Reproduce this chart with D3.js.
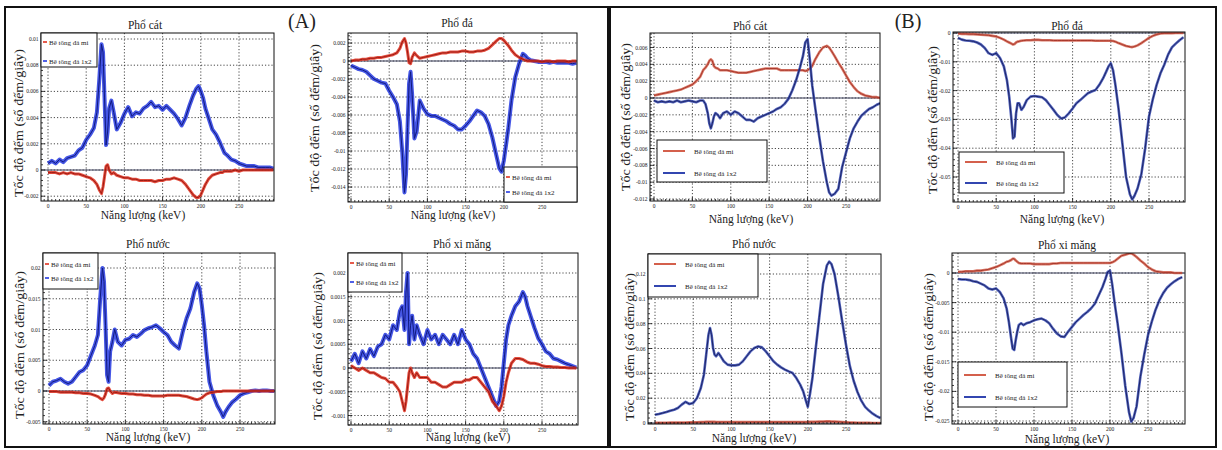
<!DOCTYPE html>
<html>
<head>
<meta charset="utf-8">
<script src="https://cdn.jsdelivr.net/npm/d3@7"></script>
<style>
body { margin: 0; background: #fff; }
</style>
</head>
<body>
<svg id="fig" width="1222" height="450"></svg>
<script>
// energy grid (keV), shared by all series
const energy = [0,5,10,15,20,25,30,35,40,45,50,55,60,
  64,67,70,72,74,76,78,80,83,86,90,
  95,100,105,110,115,120,125,130,135,140,145,150,155,160,165,170,175,180,185,
  190,194,197,200,203,206,210,
  215,220,225,228,231,235,
  240,245,250,255,260,265,270,275,280,285,290,295]

// (A) Phổ cát
const catA_mi = [-0.0002,-0.0002,-0.0002,-0.0003,-0.0002,-0.0003,-0.0002,-0.0003,-0.0003,-0.0004,-0.0005,-0.0006,-0.0008,
  -0.0011,-0.0015,-0.0018,-0.0013,-0.0005,0.0003,0.0004,0,-0.0003,-0.0002,-0.0004,
  -0.0005,-0.0006,-0.0006,-0.0007,-0.0007,-0.0008,-0.0008,-0.0008,-0.0008,-0.0009,-0.0008,-0.0008,-0.0007,-0.0007,-0.0006,-0.0007,-0.0008,-0.0011,-0.0015,
  -0.0019,-0.0021,-0.0021,-0.0019,-0.0015,-0.0011,-0.0007,
  -0.0004,-0.0003,-0.0002,-0.0002,-0.0001,-0.0001,
  -0.0001,0,-0.0001,0,0,0,0,0,0,0,0,0]
const catA_1x2 = [0.0005,0.0007,0.0005,0.0008,0.0006,0.0009,0.0010,0.0011,0.0015,0.0017,0.0023,0.0027,0.0032,
  0.0044,0.0068,0.0096,0.0090,0.0055,0.0019,0.0029,0.0047,0.0053,0.0044,0.0031,
  0.0036,0.0043,0.0048,0.0041,0.0044,0.0043,0.0047,0.0049,0.0052,0.0048,0.0049,0.0046,0.0049,0.0046,0.0043,0.0039,0.0034,0.0040,0.0049,
  0.0057,0.0062,0.0064,0.0060,0.0055,0.0047,0.0040,
  0.0031,0.0027,0.0021,0.0017,0.0013,0.0011,
  0.0008,0.0007,0.0005,0.0004,0.0003,0.0003,0.0003,0.0002,0.0002,0.0002,0.0002,0.0001]

// (A) Phổ đá
const daA_mi = [0,0.0001,0.0001,0.0002,0.0002,0.0003,0.0003,0.0004,0.0004,0.0005,0.0006,0.0007,0.0009,
  0.0014,0.0021,0.0025,0.0020,0.0010,-0.0002,-0.0003,0.0004,0.0009,0.0006,0.0003,
  0.0004,0.0005,0.0006,0.0007,0.0008,0.0009,0.0009,0.0010,0.0010,0.0010,0.0011,0.0011,0.0010,0.0010,0.0011,0.0011,0.0012,0.0014,0.0018,
  0.0022,0.0025,0.0025,0.0023,0.0020,0.0017,0.0012,
  0.0007,0.0004,0.0002,0.0001,0,0,
  0,0,-0.0001,0,0,-0.0001,0,0,0,-0.0001,0,0]
const daA_1x2 = [-0.0005,-0.0007,-0.0009,-0.0010,-0.0012,-0.0016,-0.0020,-0.0022,-0.0024,-0.0025,-0.0033,-0.0040,-0.0048,
  -0.0067,-0.0100,-0.0146,-0.0126,-0.0074,-0.0025,-0.0012,-0.0037,-0.0086,-0.0078,-0.0044,
  -0.0053,-0.0059,-0.0061,-0.0061,-0.0063,-0.0065,-0.0067,-0.0070,-0.0072,-0.0076,-0.0076,-0.0072,-0.0067,-0.0061,-0.0055,-0.0057,-0.0061,-0.0070,-0.0085,
  -0.0104,-0.0119,-0.0123,-0.0111,-0.0093,-0.0074,-0.0044,
  -0.0018,-0.0003,0.0008,0.0006,0.0003,0.0001,
  0,-0.0001,-0.0001,-0.0001,-0.0002,-0.0001,-0.0002,-0.0002,-0.0002,-0.0002,-0.0003,-0.0002]

// (A) Phổ nước
const nuocA_mi = [-0.0001,-0.0001,-0.0001,-0.0002,-0.0002,-0.0002,-0.0002,-0.0003,-0.0003,-0.0004,-0.0004,-0.0005,-0.0007,
  -0.0009,-0.0012,-0.0014,-0.0011,-0.0005,0.0004,0.0005,0,-0.0004,-0.0002,-0.0003,
  -0.0004,-0.0004,-0.0005,-0.0005,-0.0006,-0.0006,-0.0007,-0.0007,-0.0008,-0.0008,-0.0008,-0.0008,-0.0007,-0.0007,-0.0007,-0.0007,-0.0008,-0.0009,-0.0011,
  -0.0013,-0.0014,-0.0013,-0.0011,-0.0008,-0.0005,-0.0003,
  -0.0002,-0.0001,-0.0001,0,0,0,
  0,0,0,0,0,0,0,0,0,0,0,0]
const nuocA_1x2 = [0.0009,0.0015,0.0017,0.0020,0.0015,0.0012,0.0015,0.0023,0.0031,0.0034,0.0042,0.0058,0.0074,
  0.0091,0.0150,0.0200,0.0178,0.0107,0.0026,0.0015,0.0064,0.0080,0.0100,0.0080,
  0.0074,0.0083,0.0085,0.0091,0.0088,0.0093,0.0099,0.0102,0.0104,0.0107,0.0102,0.0096,0.0091,0.0080,0.0074,0.0069,0.0096,0.0118,0.0134,
  0.0161,0.0175,0.0167,0.0140,0.0107,0.0064,0.0015,
  -0.0007,-0.0023,-0.0034,-0.0042,-0.0034,-0.0026,
  -0.0018,-0.0013,-0.0007,-0.0004,-0.0002,0,0.0001,0,0.0001,0.0001,0,0]

// (A) Phổ xi măng
const ximangA_mi = [0.00005,0,-0.00005,0,-0.00005,-0.0001,-0.0001,-0.00015,-0.0002,-0.00022,-0.0003,-0.0003,-0.0004,
  -0.0005,-0.0007,-0.0009,-0.0007,-0.0004,-0.0001,0,-0.0001,-0.0002,-0.0001,-0.0002,
  -0.0002,-0.0002,-0.0003,-0.0003,-0.00035,-0.0004,-0.0004,-0.00035,-0.0003,-0.0003,-0.0003,-0.00025,-0.00025,-0.0002,-0.0002,-0.0003,-0.0004,-0.0005,-0.0007,
  -0.0008,-0.0009,-0.0008,-0.0006,-0.0003,-0.0001,0.0001,
  0.0002,0.0002,0.00018,0.00015,0.00012,0.0001,
  0.0001,0.00008,0.00005,0.00003,0.00003,0.00002,0.00002,0.00001,0.00001,0,0,0]
const ximangA_1x2 = [0.00014,0.0003,0.0001,0.00035,0.0002,0.0004,0.00025,0.00045,0.0005,0.0007,0.0006,0.0009,0.0008,
  0.0012,0.0013,0.0008,0.0016,0.0020,0.0005,0.0009,0.0011,0.0006,0.0009,0.0007,
  0.0005,0.0008,0.0006,0.0007,0.0005,0.0007,0.0006,0.0005,0.0007,0.0005,0.0008,0.0006,0.0005,0.0003,0.0002,0,-0.0002,-0.0004,-0.0006,
  -0.0008,-0.0007,-0.0004,0.0001,0.0006,0.0009,0.0011,
  0.0013,0.0014,0.0016,0.0015,0.0013,0.0011,
  0.00085,0.00063,0.0005,0.00035,0.0003,0.0002,0.00018,0.00014,0.0001,0.00007,0.00004,0.00001]

// (B) Phổ cát
const catB_mi = [0.0003,0.0004,0.0005,0.0006,0.0007,0.0008,0.0009,0.0010,0.0012,0.0014,0.0016,0.0020,0.0025,
  0.0033,0.0036,0.0040,0.0044,0.0046,0.0044,0.0038,0.0036,0.0035,0.0033,0.0033,
  0.0033,0.0032,0.0031,0.0030,0.0030,0.0030,0.0031,0.0032,0.0033,0.0034,0.0035,0.0035,0.0035,0.0035,0.0033,0.0033,0.0033,0.0033,0.0033,
  0.0033,0.0033,0.0032,0.0033,0.0035,0.0038,0.0046,
  0.0054,0.0060,0.0062,0.0060,0.0056,0.0050,
  0.0042,0.0035,0.0027,0.0019,0.0013,0.0008,0.0005,0.0003,0.0002,0.0001,0.0001,0]
const catB_1x2 = [-0.0003,-0.0005,-0.0004,-0.0005,-0.0004,-0.0005,-0.0003,-0.0005,-0.0004,-0.0003,-0.0004,-0.0005,-0.0003,
  -0.0003,-0.0007,-0.0018,-0.0030,-0.0036,-0.0030,-0.0022,-0.0018,-0.0020,-0.0024,-0.0018,
  -0.0016,-0.0020,-0.0016,-0.0018,-0.0022,-0.0026,-0.0026,-0.0028,-0.0024,-0.0022,-0.0020,-0.0018,-0.0016,-0.0013,-0.0011,-0.0007,-0.0001,0.0009,0.0021,
  0.0036,0.0050,0.0066,0.0070,0.0045,0.0015,-0.0012,
  -0.0045,-0.0075,-0.0100,-0.0112,-0.0116,-0.0114,
  -0.0108,-0.0082,-0.0065,-0.0048,-0.0036,-0.0028,-0.0021,-0.0017,-0.0013,-0.0011,-0.0008,-0.0006]

// (B) Phổ đá
const daB_mi = [-0.0002,-0.0003,-0.0003,-0.0004,-0.0004,-0.0005,-0.0006,-0.0007,-0.0008,-0.0010,-0.0012,-0.0017,-0.0023,
  -0.0029,-0.0033,-0.0037,-0.0040,-0.0038,-0.0033,-0.0030,-0.0029,-0.0027,-0.0026,-0.0025,
  -0.0025,-0.0024,-0.0024,-0.0025,-0.0025,-0.0025,-0.0026,-0.0026,-0.0026,-0.0026,-0.0026,-0.0026,-0.0026,-0.0026,-0.0026,-0.0026,-0.0026,-0.0027,-0.0027,
  -0.0027,-0.0027,-0.0027,-0.0027,-0.0028,-0.0030,-0.0035,
  -0.0040,-0.0045,-0.0048,-0.0049,-0.0047,-0.0043,
  -0.0035,-0.0026,-0.0017,-0.0010,-0.0005,-0.0002,-0.0001,-0.0001,-0.0001,0,0,0]
const daB_1x2 = [-0.0017,-0.0023,-0.0026,-0.0027,-0.0029,-0.0033,-0.0040,-0.0052,-0.0070,-0.0076,-0.0070,-0.0087,-0.0116,
  -0.0163,-0.0221,-0.0302,-0.0366,-0.0360,-0.0279,-0.0244,-0.0244,-0.0267,-0.0256,-0.0233,
  -0.0221,-0.0219,-0.0221,-0.0223,-0.0233,-0.0250,-0.0267,-0.0285,-0.0297,-0.0293,-0.0279,-0.0262,-0.0244,-0.0233,-0.0221,-0.0209,-0.0203,-0.0198,-0.0180,
  -0.0157,-0.0134,-0.0116,-0.0105,-0.0130,-0.0180,-0.0260,
  -0.0380,-0.0500,-0.0560,-0.0578,-0.0565,-0.0540,
  -0.0490,-0.0400,-0.0290,-0.0230,-0.0180,-0.0140,-0.0110,-0.0075,-0.0050,-0.0037,-0.0025,-0.0015]

// (B) Phổ nước
const nuocB_mi = [0.0001,0.0001,0.0002,0.0002,0.0003,0.0003,0.0003,0.0004,0.0004,0.0005,0.0005,0.0006,0.0007,
  0.0008,0.0009,0.0010,0.0010,0.0010,0.0009,0.0009,0.0008,0.0008,0.0008,0.0008,
  0.0008,0.0008,0.0007,0.0007,0.0007,0.0007,0.0008,0.0008,0.0008,0.0008,0.0008,0.0008,0.0008,0.0008,0.0008,0.0008,0.0008,0.0008,0.0008,
  0.0008,0.0008,0.0008,0.0008,0.0009,0.0009,0.0010,
  0.0011,0.0012,0.0013,0.0013,0.0012,0.0011,
  0.0010,0.0008,0.0006,0.0004,0.0003,0.0002,0.0001,0.0001,0.0001,0,0,0]
const nuocB_1x2 = [0.0067,0.0072,0.0080,0.0089,0.0099,0.0107,0.0121,0.0148,0.0170,0.0153,0.0161,0.0201,0.0282,
  0.0389,0.0550,0.0711,0.0765,0.0711,0.0604,0.0550,0.0537,0.0564,0.0537,0.0497,
  0.0470,0.0464,0.0464,0.0470,0.0497,0.0537,0.0577,0.0604,0.0617,0.0609,0.0577,0.0537,0.0497,0.0470,0.0448,0.0430,0.0416,0.0403,0.0362,
  0.0309,0.0255,0.0190,0.0130,0.0240,0.0360,0.0580,
  0.0850,0.1120,0.1270,0.1300,0.1280,0.1200,
  0.1020,0.0820,0.0630,0.0460,0.0340,0.0250,0.0180,0.0130,0.0100,0.0075,0.0055,0.0040]

// (B) Phổ xi măng
const ximangB_mi = [0.0002,0.0002,0.0003,0.0003,0.0003,0.0004,0.0004,0.0005,0.0006,0.0008,0.0010,0.0013,0.0016,
  0.0019,0.0020,0.0022,0.0024,0.0024,0.0021,0.0019,0.0017,0.0016,0.0016,0.0016,
  0.0016,0.0015,0.0015,0.0015,0.0015,0.0015,0.0016,0.0016,0.0017,0.0017,0.0017,0.0017,0.0017,0.0017,0.0017,0.0017,0.0017,0.0017,0.0017,
  0.0017,0.0017,0.0017,0.0017,0.0018,0.0020,0.0024,
  0.0029,0.0031,0.0033,0.0033,0.0031,0.0027,
  0.0021,0.0016,0.0010,0.0006,0.0003,0.0002,0.0001,0.0001,0.0001,0,0,0]
const ximangB_1x2 = [-0.0010,-0.0011,-0.0011,-0.0012,-0.0014,-0.0015,-0.0018,-0.0021,-0.0026,-0.0028,-0.0026,-0.0032,-0.0043,
  -0.0060,-0.0083,-0.0111,-0.0128,-0.0130,-0.0113,-0.0099,-0.0088,-0.0085,-0.0088,-0.0085,
  -0.0083,-0.0080,-0.0078,-0.0077,-0.0080,-0.0085,-0.0094,-0.0102,-0.0107,-0.0108,-0.0099,-0.0091,-0.0083,-0.0077,-0.0071,-0.0066,-0.0060,-0.0052,-0.0038,
  -0.0024,-0.0010,0.0002,0.0004,-0.0020,-0.0050,-0.0085,
  -0.0135,-0.0190,-0.0235,-0.0251,-0.0245,-0.0225,
  -0.0175,-0.0138,-0.0105,-0.0082,-0.0062,-0.0046,-0.0034,-0.0025,-0.0019,-0.0014,-0.0010,-0.0007]

const xTicks = [0, 50, 100, 150, 200, 250]
const yTicksCatA = [-0.002, 0, 0.002, 0.004, 0.006, 0.008, 0.01]
const yTicksDaA = [-0.014, -0.012, -0.01, -0.008, -0.006, -0.004, -0.002, 0, 0.002]
const yTicksNuocA = [-0.005, 0, 0.005, 0.01, 0.015, 0.02]
const yTicksXimangA = [-0.001, -0.0005, 0, 0.0005, 0.001, 0.0015, 0.002]
const yTicksCatB = [-0.012, -0.01, -0.008, -0.006, -0.004, -0.002, 0, 0.002, 0.004, 0.006]
const yTicksDaB = [-0.05, -0.04, -0.03, -0.02, -0.01, 0]
const yTicksNuocB = [0, 0.02, 0.04, 0.06, 0.08, 0.1, 0.12]
const yTicksXimangB = [-0.025, -0.02, -0.015, -0.01, -0.005, 0]

const seriesNames = ['Bê tông đá mi', 'Bê tông đá 1x2']
const titles = ['Phổ cát', 'Phổ đá', 'Phổ nước', 'Phổ xi măng']
const xLabel = 'Năng lượng (keV)'
const yLabel = 'Tốc độ đếm (số đếm/giây)'

const panels = [
    { id: 'p1', part: 'A', title: titles[0], red: catA_mi, blue: catA_1x2, yTicks: yTicksCatA,
      frame: [41, 33, 274, 201], xAt: [48, 239], yRef: [0, 0.01], yAt: [170, 39],
      titleAt: [145, 29], xLabAt: [143, 219], yLabAt: [19, 123],
      legend: [41, 33, 97, 67], rows: [42, 61] },
    { id: 'p2', part: 'A', title: titles[1], red: daA_mi, blue: daA_1x2, yTicks: yTicksDaA,
      frame: [348, 33, 577, 202], xAt: [351, 542], yRef: [0, -0.014], yAt: [61, 187],
      titleAt: [457, 27], xLabAt: [453, 219], yLabAt: [315, 118],
      legend: [504, 167, 577, 202], rows: [177, 192] },
    { id: 'p3', part: 'A', title: titles[2], red: nuocA_mi, blue: nuocA_1x2, yTicks: yTicksNuocA,
      frame: [43, 253, 275, 424], xAt: [49, 240], yRef: [0, 0.02], yAt: [391, 268],
      titleAt: [148, 248], xLabAt: [148, 441], yLabAt: [20, 345],
      legend: [43, 253, 98, 289], rows: [264, 278] },
    { id: 'p4', part: 'A', title: titles[3], red: ximangA_mi, blue: ximangA_1x2, yTicks: yTicksXimangA,
      frame: [348, 253, 578, 425], xAt: [351, 542], yRef: [0, 0.002], yAt: [368, 273],
      titleAt: [462, 248], xLabAt: [468, 441], yLabAt: [318, 346],
      legend: [348, 253, 402, 292], rows: [263, 282] },
    { id: 'p5', part: 'B', title: titles[0], red: catB_mi, blue: catB_1x2, yTicks: yTicksCatB,
      frame: [650, 33, 880, 201], xAt: [654, 846], yRef: [0, -0.012], yAt: [98, 199],
      titleAt: [750, 30], xLabAt: [751, 223], yLabAt: [626, 117],
      legend: [657, 140, 767, 182], rows: [151, 173] },
    { id: 'p6', part: 'B', title: titles[1], red: daB_mi, blue: daB_1x2, yTicks: yTicksDaB,
      frame: [953, 32, 1185, 202], xAt: [958, 1149], yRef: [0, -0.05], yAt: [33, 177],
      titleAt: [1067, 30], xLabAt: [1062, 223], yLabAt: [933, 120],
      legend: [959, 152, 1064, 193], rows: [162, 183] },
    { id: 'p7', part: 'B', title: titles[2], red: nuocB_mi, blue: nuocB_1x2, yTicks: yTicksNuocB,
      frame: [648, 254, 881, 424], xAt: [655, 846], yRef: [0, 0.12], yAt: [423, 274],
      titleAt: [754, 248], xLabAt: [754, 442], yLabAt: [630, 347],
      legend: [648, 254, 758, 297], rows: [264, 286] },
    { id: 'p8', part: 'B', title: titles[3], red: ximangB_mi, blue: ximangB_1x2, yTicks: yTicksXimangB,
      frame: [952, 253, 1185, 424], xAt: [958, 1148], yRef: [0, -0.025], yAt: [273, 421],
      titleAt: [1067, 249], xLabAt: [1067, 443], yLabAt: [929, 347],
      legend: [958, 362, 1067, 407], rows: [375, 397] },
]

// band = wide light stroke (noise envelope), core = thin dark stroke
const colors = {
    A: { red: '#e0301f', redCore: '#9c1a12', blue: '#2438e0', blueCore: '#101a80' },
    B: { red: '#d4604c', redCore: '#a8382c', blue: '#3346b0', blueCore: '#1c2466' },
}
const FONT = "'Liberation Serif', 'DejaVu Serif', 'Times New Roman', serif"

const svg = d3.select('#fig')

function txt(sel) {
    return sel.append('text').attr('font-family', FONT).attr('fill', '#222')
}

// outer boxes of (A) and (B)
svg.append('rect').attr('x', 5).attr('y', 7).attr('width', 603).attr('height', 440)
   .attr('fill', 'none').attr('stroke', '#111').attr('stroke-width', 2)
svg.append('rect').attr('x', 610).attr('y', 7).attr('width', 606).attr('height', 440)
   .attr('fill', 'none').attr('stroke', '#111').attr('stroke-width', 2)
txt(svg).attr('x', 302).attr('y', 28).attr('text-anchor', 'middle')
   .attr('font-size', 20).text('(A)')
txt(svg).attr('x', 908).attr('y', 28).attr('text-anchor', 'middle')
   .attr('font-size', 20).text('(B)')

function fmt(v) {
    return String(+v.toPrecision(6))
}

panels.forEach(drawPanel)

function drawPanel(p) {
    const [fx0, fy0, fx1, fy1] = p.frame
    const x = d3.scaleLinear().domain([0, 250]).range(p.xAt)
    const y = d3.scaleLinear().domain(p.yRef).range(p.yAt)
    const col = colors[p.part]
    const g = svg.append('g')

    svg.append('clipPath').attr('id', 'clip-' + p.id)
       .append('rect').attr('x', fx0).attr('y', fy0)
       .attr('width', fx1 - fx0).attr('height', fy1 - fy0)

    // dotted grid at major ticks
    g.selectAll('.gx').data(xTicks).enter().append('line')
     .attr('x1', d => x(d)).attr('x2', d => x(d))
     .attr('y1', fy0).attr('y2', fy1)
     .attr('stroke', '#333').attr('stroke-width', 0.9).attr('stroke-dasharray', '1.2,2')
    const yIn = p.yTicks.filter(d => y(d) >= fy0 - 0.5 && y(d) <= fy1 + 0.5)
    g.selectAll('.gy').data(yIn).enter().append('line')
     .attr('x1', fx0).attr('x2', fx1)
     .attr('y1', d => y(d)).attr('y2', d => y(d))
     .attr('stroke', '#333').attr('stroke-width', 0.9).attr('stroke-dasharray', '1.2,2')

    // zero line
    g.append('line').attr('x1', fx0).attr('x2', fx1)
     .attr('y1', y(0)).attr('y2', y(0))
     .attr('stroke', '#3a3f5a').attr('stroke-width', 1)

    // spectra
    const line = d3.line()
                   .x((d, i) => x(energy[i]))
                   .y(d => y(d))
    const plot = g.append('g').attr('clip-path', 'url(#clip-' + p.id + ')')
    const order = p.part == 'A' ? ['blue', 'red'] : ['red', 'blue']
    const band = p.part == 'A' ? { blue: 4, red: 3 } : { blue: 2.6, red: 2.6 }
    order.forEach(function (k) {
        plot.append('path').datum(p[k])
            .attr('d', line)
            .attr('fill', 'none')
            .attr('stroke', col[k])
            .attr('stroke-opacity', 0.85)
            .attr('stroke-width', band[k])
            .attr('stroke-linejoin', 'round')
        plot.append('path').datum(p[k])
            .attr('d', line)
            .attr('fill', 'none')
            .attr('stroke', col[k + 'Core'])
            .attr('stroke-width', 1)
            .attr('stroke-linejoin', 'round')
    })

    // frame
    g.append('rect').attr('x', fx0).attr('y', fy0)
     .attr('width', fx1 - fx0).attr('height', fy1 - fy0)
     .attr('fill', 'none').attr('stroke', '#111').attr('stroke-width', 1)

    // x ticks (major + minor every 5 keV)
    const lo = Math.ceil(x.invert(fx0) / 5) * 5
    const hi = x.invert(fx1)
    const xMinor = d3.range(lo, hi, 5)
    g.selectAll('.mx').data(xMinor).enter().append('line')
     .attr('x1', d => x(d)).attr('x2', d => x(d))
     .attr('y1', fy1).attr('y2', d => fy1 - (d % 50 == 0 ? 4 : 2))
     .attr('stroke', '#111').attr('stroke-width', 0.8)
    g.selectAll('.tx').data(xTicks).enter().append('text')
     .attr('font-family', FONT).attr('fill', '#222')
     .attr('x', d => x(d)).attr('y', fy1 + 6.5)
     .attr('text-anchor', 'middle')
     .attr('font-size', 5.5)
     .text(d => d)

    // y ticks (major + minor)
    const step = p.yTicks[1] - p.yTicks[0]
    const ms = step / 5
    const yLo = Math.min(y.invert(fy0), y.invert(fy1))
    const yHi = Math.max(y.invert(fy0), y.invert(fy1))
    const yMinor = d3.range(Math.ceil(yLo / ms - 1e-6), Math.floor(yHi / ms + 1e-6) + 1)
    g.selectAll('.my').data(yMinor).enter().append('line')
     .attr('x1', fx0).attr('x2', d => fx0 + (d % 5 == 0 ? 4 : 2))
     .attr('y1', d => y(d * ms)).attr('y2', d => y(d * ms))
     .attr('stroke', '#111').attr('stroke-width', 0.8)
    g.selectAll('.ty').data(yIn).enter().append('text')
     .attr('font-family', FONT).attr('fill', '#222')
     .attr('x', fx0 - 2.5).attr('y', d => y(d) + 2)
     .attr('text-anchor', 'end')
     .attr('font-size', 5.5)
     .text(fmt)

    // titles and axis labels
    txt(g).attr('x', p.titleAt[0]).attr('y', p.titleAt[1])
     .attr('text-anchor', 'middle').attr('font-size', 11.5).text(p.title)
    txt(g).attr('x', p.xLabAt[0]).attr('y', p.xLabAt[1])
     .attr('text-anchor', 'middle').attr('font-size', 11.5).text(xLabel)
    txt(g)
     .attr('transform', `translate(${p.yLabAt[0] + 4}, ${p.yLabAt[1]}) rotate(-90)`)
     .attr('text-anchor', 'middle')
     .attr('textLength', 148).attr('lengthAdjust', 'spacingAndGlyphs')
     .attr('font-size', 12).text(yLabel)

    // legend
    const [lx0, ly0, lx1, ly1] = p.legend
    const lg = g.append('g')
    lg.append('rect').attr('x', lx0).attr('y', ly0)
      .attr('width', lx1 - lx0).attr('height', ly1 - ly0)
      .attr('fill', '#fff').attr('stroke', '#111').attr('stroke-width', 1)
    const keys = ['red', 'blue']
    keys.forEach(function (k, i) {
        const ry = p.rows[i]
        if (p.part == 'A') {
            lg.append('line').attr('x1', lx0 + 2).attr('x2', lx0 + 6)
              .attr('y1', ry).attr('y2', ry)
              .attr('stroke', col[k]).attr('stroke-width', 1.6)
            txt(lg).attr('x', lx0 + 8).attr('y', ry + 2.5)
              .attr('font-size', 7).text(seriesNames[i])
        } else {
            lg.append('line').attr('x1', lx0 + 6).attr('x2', lx0 + 28)
              .attr('y1', ry).attr('y2', ry)
              .attr('stroke', col[k]).attr('stroke-width', 2)
            txt(lg).attr('x', lx0 + 37).attr('y', ry + 2.5)
              .attr('font-size', 7).text(seriesNames[i])
        }
    })
}
</script>
</body>
</html>
